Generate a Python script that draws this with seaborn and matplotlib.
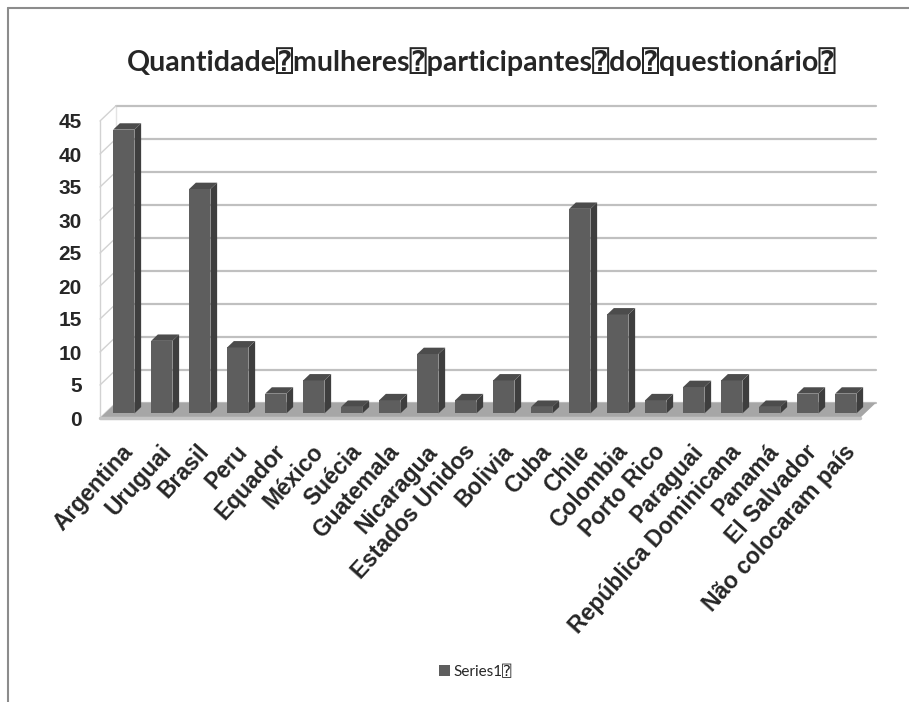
import matplotlib
matplotlib.use('Agg')
import matplotlib.pyplot as plt
import matplotlib.transforms as mtransforms
import seaborn as sns
from matplotlib.patches import Polygon, Rectangle
from matplotlib.lines import Line2D

# data
countries = ['Argentina', 'Uruguai', 'Brasil', 'Peru', 'Equador', 'México',
             'Suécia', 'Guatemala', 'Nicaragua', 'Estados Unidos', 'Bolivia',
             'Cuba', 'Chile', 'Colombia', 'Porto Rico', 'Paraguai',
             'República Dominicana', 'Panamá', 'El Salvador',
             'Não colocaram país']
values = [43, 11, 34, 10, 3, 5, 1, 2, 9, 2, 5, 1, 31, 15, 2, 4, 5, 1, 3, 3]
yticks = [0, 5, 10, 15, 20, 25, 30, 35, 40, 45]

title = 'Quantidade\u2370mulheres\u2370participantes\u2370do\u2370questionário\u2370'
series_name = 'Series1\u2370'

sns.set_style('white')
plt.rcParams['font.family'] = ['Liberation Sans', 'DejaVu Sans']

fig = plt.figure(figsize=(9.09, 7.02), dpi=100)
W, H = 909, 702
ax = fig.add_axes([100 / W, (H - 418) / H, 760 / W, 297 / H])

front = '#5e5e5e'
side = '#3e3e3e'
top = '#4c4c4c'

# 3d depth in data units
DX = 0.42
DY = 2.3
f0, f1 = 0.3, 0.72

# floor
ax.add_patch(Polygon([(-0.5, 0), (19.5, 0), (19.5 + DX, DY), (-0.5 + DX, DY)],
                     closed=True, fc='#a6a6a6', ec='none', zorder=1, clip_on=False))
ax.plot([-0.5, 19.5], [0, 0], color='#c4c4c4', lw=2.5, zorder=1.5, clip_on=False)

# back wall and left wall lines
for v in yticks:
    ax.plot([-0.5 + DX, 19.5 + DX], [v + DY, v + DY], color='#c0c0c0', lw=1.6,
            zorder=0.5, clip_on=False)
    ax.plot([-0.5, -0.5 + DX], [v, v + DY], color='#d2d2d2', lw=1,
            zorder=0.5, clip_on=False)
ax.plot([-0.5, -0.5], [0, yticks[-1]], color='#d2d2d2', lw=1, zorder=0.5, clip_on=False)
ax.plot([-0.5 + DX, -0.5 + DX], [DY, yticks[-1] + DY], color='#e4e4e4', lw=1,
        zorder=0.4, clip_on=False)

sns.barplot(x=countries, y=values, color=front, saturation=1, width=0.56,
            ax=ax, zorder=3, linewidth=0, edgecolor='none')

b = f0 * DY
d = f1 - f0
bars = [p for p in ax.patches if isinstance(p, Rectangle)]
for p in bars:
    x, w, h = p.get_x(), p.get_width(), p.get_height()
    x = x + f0 * DX
    p.set_xy((x, b))
    p.set_clip_on(False)
    ax.add_patch(Polygon([(x + w, b), (x + w + d * DX, b + d * DY),
                          (x + w + d * DX, b + h + d * DY), (x + w, b + h)],
                         closed=True, fc=side, ec='none', zorder=3, clip_on=False))
    ax.add_patch(Polygon([(x, b + h), (x + w, b + h),
                          (x + w + d * DX, b + h + d * DY), (x + d * DX, b + h + d * DY)],
                         closed=True, fc=top, ec='none', zorder=3, clip_on=False))

ax.set_xlim(-0.5, 19.5)
ax.set_ylim(0, 45)
ax.set_yticks(yticks)
ax.set_yticklabels([str(t) for t in yticks], fontsize=15, fontweight='bold')
ax.tick_params(axis='y', length=0, pad=13)
ax.tick_params(axis='x', length=0, pad=16)
ax.set_xticks(range(len(countries)))
ax.set_xticklabels(countries, rotation=48, ha='right', rotation_mode='anchor',
                   fontsize=16.5, fontweight='bold')
shift = mtransforms.ScaledTranslation(2 / 100, 0, fig.dpi_scale_trans)
for lab in ax.get_xticklabels():
    lab.set_transform(lab.get_transform() + shift)
for s in ax.spines.values():
    s.set_visible(False)
ax.set_facecolor('none')
ax.set_xlabel('')
ax.set_ylabel('')

fig.text(482 / W, 1 - 62 / H, title, ha='center', va='center', fontsize=20.5,
         fontweight='bold', family=['Lato', 'DejaVu Sans', 'DejaVu Sans Mono'])

handles = [Rectangle((0, 0), 1, 1, fc=front, ec='none')]
fig.legend(handles, [series_name], loc='center', bbox_to_anchor=(475 / W, 1 - 672 / H),
           frameon=False, handlelength=0.75, handleheight=0.75, handletextpad=0.2,
           prop={'family': ['Lato', 'DejaVu Sans', 'DejaVu Sans Mono'], 'size': 11})

# outer chart frame
fig.add_artist(Line2D([8 / W, 8 / W], [0, 1 - 8 / H], transform=fig.transFigure,
                      color='#8c8c8c', lw=1.5))
fig.add_artist(Line2D([8 / W, 1], [1 - 8 / H, 1 - 8 / H], transform=fig.transFigure,
                      color='#8c8c8c', lw=1.5))

fig.savefig('out.png', dpi=100, facecolor='white')
